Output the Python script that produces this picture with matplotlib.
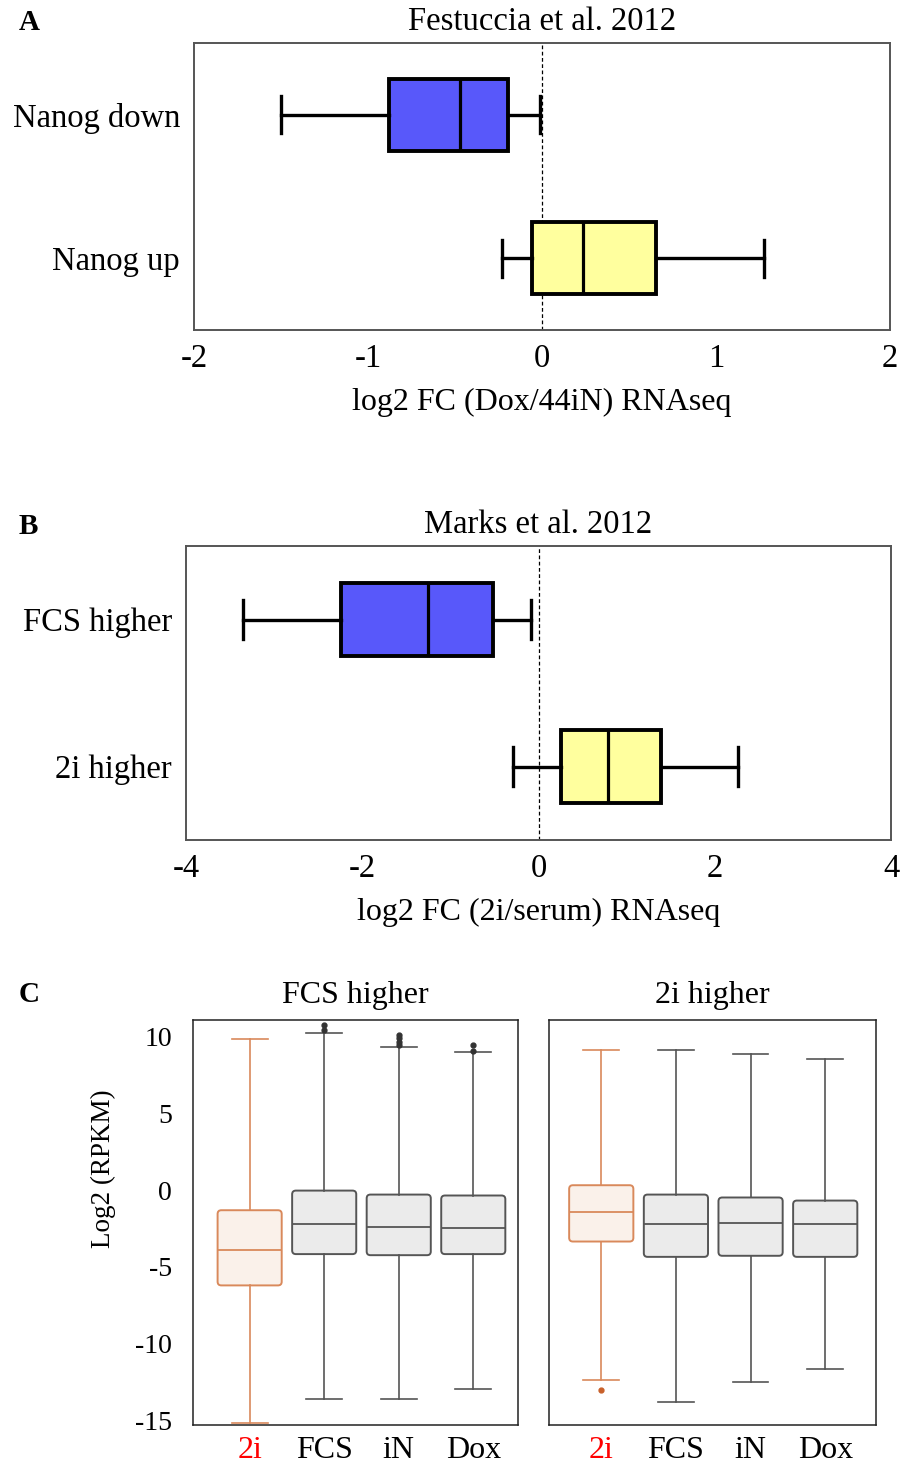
import matplotlib
matplotlib.use('Agg')
import matplotlib.pyplot as plt
from matplotlib.patches import FancyBboxPatch

plt.rcParams['font.family'] = ['Liberation Serif', 'DejaVu Serif']
plt.rcParams['axes.unicode_minus'] = False

# Panel A: Festuccia et al. 2012
a_labels = ['Nanog down', 'Nanog up']
a_whislo = [-1.5, -0.23]
a_q1 = [-0.88, -0.06]
a_med = [-0.47, 0.235]
a_q3 = [-0.195, 0.655]
a_whishi = [-0.01, 1.275]

# Panel B: Marks et al. 2012
b_labels = ['FCS higher', '2i higher']
b_whislo = [-3.35, -0.29]
b_q1 = [-2.24, 0.255]
b_med = [-1.25, 0.79]
b_q3 = [-0.52, 1.39]
b_whishi = [-0.085, 2.26]

# Panel C: Log2 RPKM per condition
c_groups = ['2i', 'FCS', 'iN', 'Dox']

fcs_whislo = [-15.18, -13.58, -13.62, -12.93]
fcs_q1 = [-6.20, -4.16, -4.23, -4.16]
fcs_med = [-3.90, -2.21, -2.41, -2.45]
fcs_q3 = [-1.30, -0.02, -0.28, -0.34]
fcs_whishi = [9.89, 10.26, 9.32, 9.0]
fcs_fliers = [[], [10.46, 10.78], [9.48, 9.69, 9.91, 10.13], [9.06, 9.48]]

twoi_whislo = [-12.38, -13.77, -12.51, -11.65]
twoi_q1 = [-3.34, -4.34, -4.27, -4.34]
twoi_med = [-1.39, -2.17, -2.15, -2.21]
twoi_q3 = [0.33, -0.28, -0.47, -0.67]
twoi_whishi = [9.17, 9.17, 8.89, 8.59]
twoi_fliers = [[-13.03], [], [], []]

W, H = 900, 1465
fig = plt.figure(figsize=(9, 14.65), dpi=100)


def frac(x0, y0, x1, y1):
    """Convert pixel box (left, top, right, bottom) to figure fractions."""
    return [x0 / W, 1 - y1 / H, (x1 - x0) / W, (y1 - y0) / H]


def fc_panel(rect, labels, lo, q1, med, q3, hi, xlim, xticks, title, xlabel, letter, capw):
    ax = fig.add_axes(frac(*rect))
    stats = [dict(label=l, whislo=a, q1=b, med=c, q3=d, whishi=e, fliers=[])
             for l, a, b, c, d, e in zip(labels, lo, q1, med, q3, hi)]
    bp = ax.bxp(stats, positions=[1, 0], widths=0.5, orientation='horizontal',
                patch_artist=True, showfliers=False, capwidths=capw,
                boxprops=dict(linewidth=2.8, edgecolor='black'),
                whiskerprops=dict(linewidth=2.4, color='black'),
                capprops=dict(linewidth=2.4, color='black'),
                medianprops=dict(linewidth=2.3, color='black'))
    for patch, col in zip(bp['boxes'], ['#5858FA', '#FFFF9E']):
        patch.set_facecolor(col)
    ax.axvline(0, color='black', linestyle=(0, (3, 2)), linewidth=0.9, zorder=0)
    ax.set_xlim(*xlim)
    ax.set_ylim(-0.5, 1.5)
    ax.set_xticks(xticks)
    ax.set_xticklabels([f'{t:g}' for t in xticks])
    ax.tick_params(length=0, labelsize=23.5)
    ax.tick_params(axis='x', pad=10)
    ax.tick_params(axis='y', pad=10)
    for s in ax.spines.values():
        s.set_color('#555555')
        s.set_linewidth(1.4)
    ax.set_xlabel(xlabel, fontsize=23, labelpad=10)
    cx = (rect[0] + rect[2]) / 2
    fig.text(cx / W, 1 - (rect[1] - 21) / H, title, fontsize=23.5, ha='center', va='center')
    fig.text(19 / W, 1 - (rect[1] - 20) / H, letter, fontsize=21, fontweight='bold',
             ha='left', va='center')
    return ax


fc_panel((194, 43, 890, 330), a_labels, a_whislo, a_q1, a_med, a_q3, a_whishi,
         (-2, 2), [-2, -1, 0, 1, 2], 'Festuccia et al. 2012',
         'log2 FC (Dox/44iN) RNAseq', 'A', 0.26)
fc_panel((186, 546, 891, 840), b_labels, b_whislo, b_q1, b_med, b_q3, b_whishi,
         (-4, 4), [-4, -2, 0, 2, 4], 'Marks et al. 2012',
         'log2 FC (2i/serum) RNAseq', 'B', 0.27)


def rpkm_panel(rect, xlim, lo, q1, med, q3, hi, fliers, title, show_y):
    ax = fig.add_axes(frac(*rect))
    pos = list(range(len(c_groups)))
    stats = [dict(label=g, whislo=a, q1=b, med=c, q3=d, whishi=e, fliers=f)
             for g, a, b, c, d, e, f in zip(c_groups, lo, q1, med, q3, hi, fliers)]
    edge = ['#D9895B', '#555555', '#555555', '#555555']
    face = ['#FAF1EA', '#EBEBEB', '#EBEBEB', '#EBEBEB']
    dots = ['#C8602A', '#333333', '#333333', '#333333']
    for i, st in enumerate(stats):
        ax.bxp([st], positions=[pos[i]], widths=0.86, showbox=False, capwidths=0.48,
               whiskerprops=dict(color=edge[i], linewidth=1.2),
               capprops=dict(color=edge[i], linewidth=1.2),
               medianprops=dict(color=edge[i], linewidth=1.3),
               flierprops=dict(marker='o', markersize=3.5, markerfacecolor=dots[i],
                               markeredgecolor=dots[i]))
        box = FancyBboxPatch((pos[i] - 0.43, st['q1']), 0.86, st['q3'] - st['q1'],
                             boxstyle='round,pad=0,rounding_size=0.05',
                             mutation_aspect=4.85, facecolor=face[i],
                             edgecolor=edge[i], linewidth=1.4, zorder=1.5)
        ax.add_patch(box)
    ax.set_xlim(*xlim)
    ax.set_ylim(-15.3, 11.1)
    ax.set_xticks(pos)
    ax.set_xticklabels(c_groups)
    ax.get_xticklabels()[0].set_color('red')
    ax.set_yticks([10, 5, 0, -5, -10, -15])
    ax.tick_params(length=0)
    ax.tick_params(axis='x', pad=8, labelsize=23)
    ax.tick_params(axis='y', pad=15, labelsize=20)
    if not show_y:
        ax.set_yticklabels([])
    for s in ax.spines.values():
        s.set_color('#222222')
        s.set_linewidth(1.1)
    cx = (rect[0] + rect[2]) / 2
    fig.text(cx / W, 1 - 995 / H, title, fontsize=23, ha='center', va='center')
    return ax


rpkm_panel((193, 1020, 518, 1425), (-0.76, 3.6), fcs_whislo, fcs_q1, fcs_med, fcs_q3,
           fcs_whishi, fcs_fliers, 'FCS higher', True)
rpkm_panel((549, 1020, 876, 1425), (-0.70, 3.68), twoi_whislo, twoi_q1, twoi_med, twoi_q3,
           twoi_whishi, twoi_fliers, '2i higher', False)

fig.text(19 / W, 1 - 995 / H, 'C', fontsize=21, fontweight='bold', ha='left', va='center')
fig.text(103 / W, 1 - 1169 / H, 'Log2 (RPKM)', fontsize=19.5, rotation=90,
         ha='center', va='center')

fig.savefig('out.png', dpi=100)
